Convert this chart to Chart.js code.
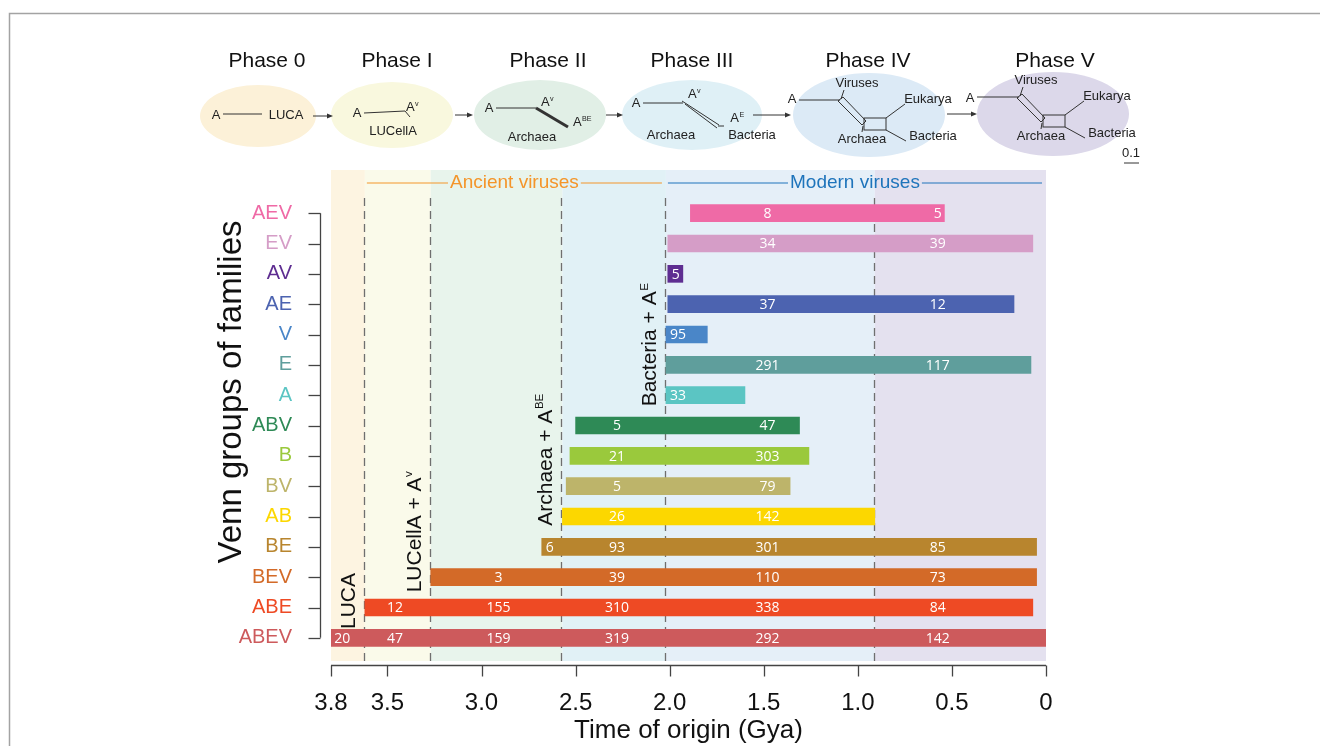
<!DOCTYPE html>
<html lang="en">
<head>
<meta charset="UTF-8">
<title>Time of origin of Venn groups of families</title>
<script src="https://cdn.jsdelivr.net/npm/chart.js"></script>
<style>
  body, html { margin: 0; padding: 0; background: #fff; }
  #wrap { width: 1320px; height: 746px; position: relative; }
</style>
</head>
<body>
<div id="wrap"><canvas id="chart"></canvas></div>
<script>
// Venn groups of families, top to bottom
const groups = ['AEV', 'EV', 'AV', 'AE', 'V', 'E', 'A', 'ABV', 'B', 'BV', 'AB', 'BE', 'BEV', 'ABE', 'ABEV'];
const groupColors = ['#ef6aa6', '#d59dc7', '#5e2d91', '#4c63b0', '#4a86c8', '#5f9e9c', '#5bc5c3', '#2e8a56',
                     '#9ac93c', '#bdb46a', '#fcd700', '#b8852e', '#d36a28', '#ee4a24', '#cd5a5c'];
// time of origin and end of each group (Gya)
const startGya = [1.89, 2.01, 2.01, 2.01, 2.02, 2.02, 2.02, 2.50, 2.53, 2.55, 2.57, 2.68, 3.27, 3.62, 3.80];
const endGya   = [0.54, 0.07, 1.93, 0.17, 1.80, 0.08, 1.60, 1.31, 1.26, 1.36, 0.91, 0.05, 0.05, 0.07, 0.00];
// number of families appearing in each phase (0, I, II, III, IV, V)
const familyCounts = [
  [null, null, null, null, 8, 5],
  [null, null, null, null, 34, 39],
  [null, null, null, null, 5, null],
  [null, null, null, null, 37, 12],
  [null, null, null, null, 95, null],
  [null, null, null, null, 291, 117],
  [null, null, null, null, 33, null],
  [null, null, null, 5, 47, null],
  [null, null, null, 21, 303, null],
  [null, null, null, 5, 79, null],
  [null, null, null, 26, 142, null],
  [null, null, 6, 93, 301, 85],
  [null, null, 3, 39, 110, 73],
  [null, 12, 155, 310, 338, 84],
  [20, 47, 159, 319, 292, 142]
];
const phaseNames = ['Phase 0', 'Phase I', 'Phase II', 'Phase III', 'Phase IV', 'Phase V'];
const phaseEdges = [3.8, 3.62, 3.27, 2.57, 2.02, 0.91, 0];
const countLabelGya = [3.74, 3.46, 2.91, 2.28, 1.48, 0.575];
const xTicks = [3.8, 3.5, 3.0, 2.5, 2.0, 1.5, 1.0, 0.5, 0];

const bandColors = ['#fdf4e1', '#fafaea', '#e8f4ec', '#e1f1f6', '#e5eff8', '#e4e1ef'];
const ovalColors = ['#fcf1d8', '#f9f8de', '#e1efe6', '#dff0f6', '#dceaf6', '#dcd8ea'];
const SANS = '"Liberation Sans", Arial, sans-serif';

// text with an optional superscript part, centred on x, baseline at y
function supText(ctx, x, y, base, sup, size, color) {
  ctx.save();
  ctx.fillStyle = color;
  ctx.textBaseline = 'alphabetic';
  ctx.textAlign = 'left';
  ctx.font = size + 'px ' + SANS;
  const wb = ctx.measureText(base).width;
  ctx.font = (size * 0.55) + 'px ' + SANS;
  const ws = sup ? ctx.measureText(sup).width : 0;
  let cx = x - (wb + ws) / 2;
  ctx.font = size + 'px ' + SANS;
  ctx.fillText(base, cx, y);
  if (sup) {
    ctx.font = (size * 0.55) + 'px ' + SANS;
    ctx.fillText(sup, cx + wb + 0.5, y - size * 0.42);
  }
  ctx.restore();
}

function line(ctx, x1, y1, x2, y2, w) {
  ctx.lineWidth = w || 1;
  ctx.beginPath();
  ctx.moveTo(x1, y1);
  ctx.lineTo(x2, y2);
  ctx.stroke();
}

function arrow(ctx, x1, x2, y) {
  line(ctx, x1, y, x2 - 5, y, 1);
  ctx.beginPath();
  ctx.moveTo(x2, y);
  ctx.lineTo(x2 - 6, y - 2.5);
  ctx.lineTo(x2 - 6, y + 2.5);
  ctx.closePath();
  ctx.fill();
}

function label(ctx, s, x, y) {
  ctx.textAlign = 'center';
  ctx.textBaseline = 'middle';
  ctx.fillText(s, x, y);
}

// unrooted network used for phases IV and V
function network(ctx, ox, oy) {
  ctx.lineWidth = 1;
  ctx.beginPath();
  ctx.moveTo(ox + 838, oy + 101); ctx.lineTo(ox + 862, oy + 125);
  ctx.lineTo(ox + 866, oy + 121); ctx.lineTo(ox + 843, oy + 97);
  ctx.closePath(); ctx.stroke();
  ctx.strokeRect(ox + 864, oy + 118, 22, 12);
  line(ctx, ox + 841, oy + 99, ox + 844, oy + 90);
  line(ctx, ox + 886, oy + 118, ox + 905, oy + 104);
  line(ctx, ox + 886, oy + 130, ox + 906, oy + 141);
  line(ctx, ox + 863, oy + 126, ox + 862, oy + 132);
  label(ctx, 'Viruses', ox + 857, oy + 83);
  label(ctx, 'Eukarya', ox + 928, oy + 99);
  label(ctx, 'Bacteria', ox + 933, oy + 136);
  label(ctx, 'Archaea', ox + 862, oy + 139);
}

const decorations = {
  id: 'decorations',
  beforeDraw(chart) {
    const { ctx, chartArea: a, scales: { x } } = chart;
    ctx.save();
    // frame
    ctx.strokeStyle = '#a3a3a3';
    ctx.lineWidth = 1.5;
    ctx.beginPath();
    ctx.moveTo(9.5, 746); ctx.lineTo(9.5, 13.5); ctx.lineTo(1320, 13.5);
    ctx.stroke();
    // phase bands
    for (let p = 0; p < 6; p++) {
      const x1 = x.getPixelForValue(phaseEdges[p]);
      const x2 = x.getPixelForValue(phaseEdges[p + 1]);
      ctx.fillStyle = bandColors[p];
      ctx.fillRect(x1, a.top - 28, x2 - x1, a.bottom - a.top + 36);
    }
    // phase diagrams
    const ovals = [[258, 116, 58, 31], [392, 115, 61, 33], [540, 115, 66, 35],
                   [692, 115, 70, 35], [869, 115, 76, 42], [1053, 114, 76, 42]];
    const titleX = [267, 397, 548, 692, 868, 1055];
    ovals.forEach((o, p) => {
      ctx.fillStyle = ovalColors[p];
      ctx.beginPath();
      ctx.ellipse(o[0], o[1], o[2], o[3], 0, 0, Math.PI * 2);
      ctx.fill();
      ctx.fillStyle = '#111';
      ctx.font = '21px ' + SANS;
      label(ctx, phaseNames[p], titleX[p], 61);
    });
    ctx.strokeStyle = '#333';
    ctx.fillStyle = '#333';
    arrow(ctx, 313, 333, 116);
    arrow(ctx, 455, 473, 115);
    arrow(ctx, 606, 623, 115);
    arrow(ctx, 753, 791, 115);
    arrow(ctx, 947, 977, 114);

    ctx.fillStyle = '#222';
    ctx.font = '13px ' + SANS;
    // phase 0
    label(ctx, 'A', 216, 115); line(ctx, 223, 114, 262, 114); label(ctx, 'LUCA', 286, 115);
    // phase I
    label(ctx, 'A', 357, 113); line(ctx, 364, 113, 405, 111); line(ctx, 405, 111, 410, 117);
    supText(ctx, 412, 111, 'A', 'v', 13, '#222');
    ctx.font = '13px ' + SANS; ctx.fillStyle = '#222';
    label(ctx, 'LUCellA', 393, 131);
    // phase II
    label(ctx, 'A', 489, 108); line(ctx, 496, 108, 536, 108); line(ctx, 536, 108, 568, 127, 3);
    supText(ctx, 547, 106, 'A', 'v', 13, '#222');
    supText(ctx, 582, 126, 'A', 'BE', 13, '#222');
    ctx.font = '13px ' + SANS; ctx.fillStyle = '#222';
    label(ctx, 'Archaea', 532, 137);
    // phase III
    label(ctx, 'A', 636, 103); line(ctx, 643, 103, 683, 103);
    line(ctx, 682, 101, 719, 125); line(ctx, 685, 104, 717, 128); line(ctx, 718, 126, 724, 126);
    supText(ctx, 694, 98, 'A', 'v', 13, '#222');
    supText(ctx, 737, 122, 'A', 'E', 13, '#222');
    ctx.font = '13px ' + SANS; ctx.fillStyle = '#222';
    label(ctx, 'Archaea', 671, 135);
    label(ctx, 'Bacteria', 752, 135);
    // phases IV and V
    label(ctx, 'A', 792, 99); line(ctx, 799, 100, 840, 100);
    network(ctx, 0, 0);
    label(ctx, 'A', 970, 98); line(ctx, 977, 97, 1019, 97);
    network(ctx, 179, -3);
    // scale bar
    label(ctx, '0.1', 1131, 153);
    line(ctx, 1124, 163, 1139, 163);
    ctx.restore();
  },
  beforeDatasetsDraw(chart) {
    const { ctx, chartArea: a, scales: { x } } = chart;
    ctx.save();
    // phase boundaries
    ctx.strokeStyle = '#6f6f6f';
    ctx.setLineDash([8, 5]);
    for (let p = 1; p < 6; p++) {
      const px = Math.round(x.getPixelForValue(phaseEdges[p])) - 0.5;
      line(ctx, px, a.top, px, a.bottom + 8, 1.3);
    }
    ctx.setLineDash([]);
    // ancient / modern viruses headers
    const hy = a.top - 15;
    const headers = [[phaseEdges[1], phaseEdges[4], 'Ancient viruses', '#f4952a'],
                     [phaseEdges[4], phaseEdges[6], 'Modern viruses', '#1e74bb']];
    ctx.font = '19px ' + SANS;
    headers.forEach(([g1, g2, txt, col]) => {
      const x1 = x.getPixelForValue(g1) + 2;
      const x2 = x.getPixelForValue(g2) - 4;
      const mid = (x1 + x2) / 2;
      const w = ctx.measureText(txt).width;
      ctx.strokeStyle = col;
      ctx.fillStyle = col;
      line(ctx, x1, hy, mid - w / 2 - 2, hy, 1.2);
      line(ctx, mid + w / 2 + 2, hy, x2, hy, 1.2);
      label(ctx, txt, mid, hy);
    });
    // rotated event labels
    const events = [[(x.getPixelForValue(3.8) + x.getPixelForValue(3.62)) / 2, 601, 'LUCA', ''],
                    [x.getPixelForValue(3.27) - 17, 532, 'LUCellA + A', 'v'],
                    [x.getPixelForValue(2.57) - 18, 460, 'Archaea + A', 'BE'],
                    [x.getPixelForValue(2.02) - 17, 345, 'Bacteria + A', 'E']];
    events.forEach(([ex, ey, base, sup]) => {
      ctx.save();
      ctx.translate(ex, ey);
      ctx.rotate(-Math.PI / 2);
      supText(ctx, 0, 7.5, base, sup, 21, '#111');
      ctx.restore();
    });
    ctx.restore();
  },
  afterDatasetsDraw(chart) {
    const { ctx, scales: { x, y } } = chart;
    ctx.save();
    ctx.font = '14px "Open Sans", ' + SANS;
    ctx.fillStyle = '#fff';
    ctx.textBaseline = 'middle';
    groups.forEach((g, i) => {
      const yc = y.getPixelForValue(i) + 1;
      familyCounts[i].forEach((n, p) => {
        if (n === null) return;
        const segOld = Math.min(phaseEdges[p], startGya[i]);
        const segYoung = Math.max(phaseEdges[p + 1], endGya[i]);
        const at = countLabelGya[p];
        if (at <= segOld && at >= segYoung) {
          ctx.textAlign = 'center';
          ctx.fillText(String(n), x.getPixelForValue(at), yc);
        } else {
          ctx.textAlign = 'left';
          ctx.fillText(String(n), x.getPixelForValue(segOld) + 4, yc);
        }
      });
    });
    ctx.restore();
  },
  afterDraw(chart) {
    const { ctx, chartArea: a, scales: { x, y } } = chart;
    ctx.save();
    ctx.strokeStyle = '#444';
    // x axis line and ticks
    const ay = a.bottom + 12.5;
    line(ctx, x.getPixelForValue(3.8), ay, x.getPixelForValue(0), ay, 1.3);
    xTicks.forEach(v => {
      const px = Math.round(x.getPixelForValue(v)) + 0.5;
      line(ctx, px, ay, px, ay + 11, 1.3);
    });
    // y axis bracket
    const bx = a.left - 10.5;
    const yTop = y.getPixelForValue(0), yBot = y.getPixelForValue(groups.length - 1);
    line(ctx, bx, yTop, bx, yBot, 1.3);
    groups.forEach((g, i) => {
      const py = Math.round(y.getPixelForValue(i)) + 0.5;
      line(ctx, bx - 12, py, bx, py, 1.3);
    });
    // y title
    ctx.translate(232, 392);
    ctx.rotate(-Math.PI / 2);
    ctx.fillStyle = '#111';
    ctx.font = '33px ' + SANS;
    label(ctx, 'Venn groups of families', 0, 0);
    ctx.restore();
  }
};

new Chart(document.getElementById('chart'), {
  type: 'bar',
  data: {
    labels: groups,
    datasets: [{
      data: groups.map((g, i) => [startGya[i], endGya[i]]),
      backgroundColor: groupColors,
      borderWidth: 0,
      borderSkipped: false,
      barThickness: 17
    }]
  },
  options: {
    indexAxis: 'y',
    responsive: true,
    maintainAspectRatio: false,
    animation: false,
    layout: { padding: { left: 200, top: 198, right: 274, bottom: 0 } },
    plugins: { legend: { display: false }, tooltip: { enabled: false } },
    scales: {
      x: {
        type: 'linear',
        reverse: true,
        min: 0,
        max: 3.8,
        afterBuildTicks: s => { s.ticks = xTicks.map(v => ({ value: v })); },
        afterFit: s => { s.height = 93; },
        grid: { display: false },
        border: { display: false },
        ticks: {
          padding: 28,
          autoSkip: false,
          maxRotation: 0,
          color: '#111',
          font: { family: SANS, size: 24 },
          callback: v => v === 0 ? '0' : v.toFixed(1)
        },
        title: {
          display: true,
          text: 'Time of origin (Gya)',
          color: '#111',
          font: { family: SANS, size: 26 },
          padding: { top: 0, bottom: 0 }
        }
      },
      y: {
        type: 'category',
        offset: true,
        afterFit: s => { s.width = 131; },
        grid: { display: false },
        border: { display: false },
        ticks: {
          padding: 31,
          autoSkip: false,
          color: c => groupColors[c.index],
          font: { family: SANS, size: 20 }
        }
      }
    }
  },
  plugins: [decorations]
});
</script>
</body>
</html>
